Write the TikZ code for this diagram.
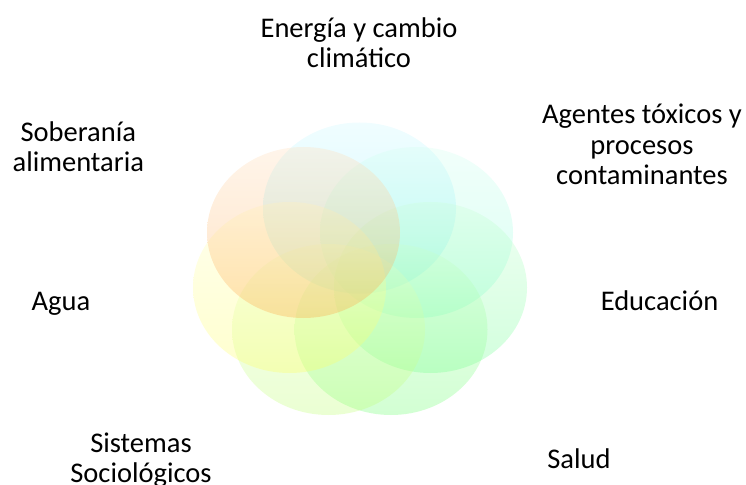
\documentclass[tikz,border=0pt]{standalone}
\usepackage{fontspec}
\setmainfont{Carlito}
\usepackage{xcolor}
\usepackage{tikz}
\usetikzlibrary{shapes.geometric, positioning}
\definecolor{energiaC}{RGB}{109,236,255}
\definecolor{agentesC}{RGB}{125,255,213}
\definecolor{educacionC}{RGB}{103,255,140}
\definecolor{saludC}{RGB}{105,255,108}
\definecolor{sistemasC}{RGB}{188,255,108}
\definecolor{aguaC}{RGB}{255,255,90}
\definecolor{soberaniaC}{RGB}{255,160,60}
\tikzset{
    petal/.style={ellipse, minimum width=193bp, minimum height=171bp, inner sep=0pt, fill opacity=0.3, top color=#1!35, bottom color=#1},
    topic/.style={align=center, anchor=base, inner sep=0pt, font=\fontsize{28.5bp}{30.5bp}\selectfont}
}

\begin{document}
\begin{tikzpicture}[x=1bp, y=1bp]
    \useasboundingbox (0,0) rectangle (746,-485);

    % Overlapping petals
    \node[petal=energiaC] (energia) at (359.5,-208) {};
    \node[petal=agentesC] (agentes) at (416.5,-232.5) {};
    \node[petal=educacionC] (educacion) at (430.5,-287.5) {};
    \node[petal=saludC] (salud) at (391,-329.5) {};
    \node[petal=sistemasC] (sistemas) at (328.5,-329.5) {};
    \node[petal=aguaC] (agua) at (289.5,-287.5) {};
    \node[petal=soberaniaC] (soberania) at (303.5,-232.5) {};

    % Topics (base = last line)
    \node[topic] (tEnergia) at (359,-67.7) {Energía y cambio\\climático};
    \node[topic] (tAgentes) at (642,-185) {Agentes tóxicos y\\procesos\\contaminantes};
    \node[topic] (tEducacion) at (659.5,-310) {Educación};
    \node[topic] (tSalud) at (579,-468.3) {Salud};
    \node[topic] (tSistemas) at (141,-482.7) {Sistemas\\Sociológicos};
    \node[topic] (tAgua) at (61,-310) {Agua};
    \node[topic] (tSoberania) at (78.3,-171.7) {Soberanía\\alimentaria};
\end{tikzpicture}
\end{document}
